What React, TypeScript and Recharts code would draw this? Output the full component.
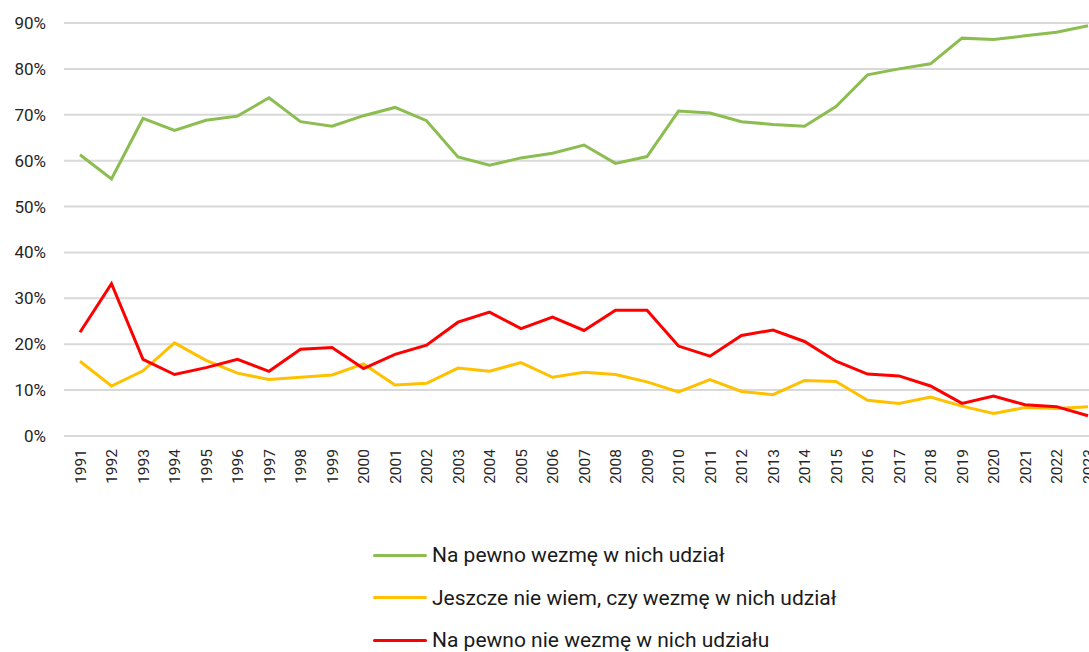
import { LineChart, Line, XAxis, YAxis, CartesianGrid, Legend } from 'recharts';

const YEARS = [
  '1991', '1992', '1993', '1994', '1995', '1996', '1997', '1998', '1999', '2000', '2001',
  '2002', '2003', '2004', '2005', '2006', '2007', '2008', '2009', '2010', '2011', '2012',
  '2013', '2014', '2015', '2016', '2017', '2018', '2019', '2020', '2021', '2022', '2023',
];

const NA_PEWNO = [
  61.3, 56.0, 69.2, 66.6, 68.8, 69.7, 73.7, 68.5, 67.5, 69.8, 71.6,
  68.7, 60.8, 59.0, 60.6, 61.6, 63.4, 59.4, 60.9, 70.8, 70.4, 68.5,
  67.9, 67.5, 71.8, 78.7, 80.0, 81.1, 86.7, 86.4, 87.2, 88.0, 89.4,
];

const NIE_WIEM = [
  16.3, 10.9, 14.2, 20.3, 16.5, 13.7, 12.3, 12.8, 13.3, 15.7, 11.1,
  11.5, 14.8, 14.1, 16.0, 12.8, 13.9, 13.4, 11.8, 9.6, 12.3, 9.7,
  9.0, 12.1, 11.9, 7.8, 7.1, 8.5, 6.5, 4.9, 6.2, 6.0, 6.4,
];

const NA_PEWNO_NIE = [
  22.6, 33.2, 16.7, 13.4, 14.9, 16.7, 14.1, 18.9, 19.3, 14.7, 17.8,
  19.8, 24.8, 27.0, 23.4, 25.9, 23.0, 27.4, 27.4, 19.6, 17.4, 21.9,
  23.1, 20.6, 16.3, 13.5, 13.1, 10.9, 7.1, 8.7, 6.8, 6.4, 4.4,
];

const Y_TICKS = [0, 10, 20, 30, 40, 50, 60, 70, 80, 90];

const SERIES = [
  { key: 'pewno', name: 'Na pewno wezmę w nich udział', color: '#8cbd50' },
  { key: 'niewiem', name: 'Jeszcze nie wiem, czy wezmę w nich udział', color: '#ffc000' },
  { key: 'nie', name: 'Na pewno nie wezmę w nich udziału', color: '#ff0000' },
];

const data = YEARS.map((year, i) => ({
  year,
  pewno: NA_PEWNO[i],
  niewiem: NIE_WIEM[i],
  nie: NA_PEWNO_NIE[i],
}));

const FONT = 'Roboto, sans-serif';

const YearTick = ({ x, y, payload }: { x?: number; y?: number; payload?: { value: string } }) => (
  <g transform={`translate(${x},${y})`}>
    <text transform="rotate(-90)" textAnchor="end" dy="0.36em" fontSize={15.5} fill="#262626" fontFamily={FONT}>
      {payload?.value}
    </text>
  </g>
);

const LegendRows = () => (
  <div style={{ fontFamily: FONT, fontSize: 21, color: '#1a1a1a' }}>
    {SERIES.map(s => (
      <div key={s.key} style={{ display: 'flex', alignItems: 'center', height: 42.5, whiteSpace: 'nowrap' }}>
        <span style={{ display: 'inline-block', width: 54, height: 3, background: s.color, marginRight: 5, borderRadius: 2 }} />
        <span>{s.name}</span>
      </div>
    ))}
  </div>
);

export default function App() {
  return (
    <div style={{ position: 'fixed', left: 0, top: 0, width: 1089, height: 652, overflow: 'hidden', background: '#fff' }}>
      <LineChart width={1110} height={652} data={data} margin={{ top: 23, right: 6, left: 0, bottom: 156 }}>
        <CartesianGrid vertical={false} stroke="#d9d9d9" strokeWidth={2} />
        <XAxis
          dataKey="year"
          interval={0}
          padding={{ left: 16, right: 16 }}
          axisLine={false}
          tickLine={false}
          tickSize={0}
          tickMargin={13}
          height={60}
          tick={<YearTick />}
        />
        <YAxis
          domain={[0, 90]}
          ticks={Y_TICKS}
          width={64}
          axisLine={false}
          tickLine={false}
          tickSize={0}
          tickMargin={18}
          tickFormatter={(v: number) => `${v}%`}
          tick={{ fontSize: 17, fill: '#262626', fontFamily: FONT }}
        />
        {SERIES.map(s => (
          <Line
            key={s.key}
            type="linear"
            dataKey={s.key}
            name={s.name}
            stroke={s.color}
            strokeWidth={3}
            dot={false}
            isAnimationActive={false}
          />
        ))}
        <Legend
          layout="vertical"
          align="center"
          verticalAlign="middle"
          content={<LegendRows />}
          wrapperStyle={{ position: 'absolute', left: 373, top: 534, width: 600 }}
        />
      </LineChart>
    </div>
  );
}
